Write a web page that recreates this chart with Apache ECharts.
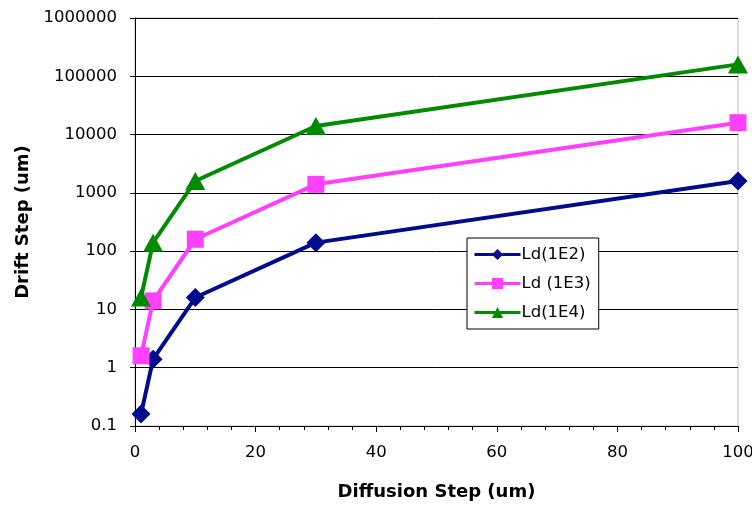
<!DOCTYPE html>
<html><head><meta charset="utf-8">
<script src="https://cdn.jsdelivr.net/npm/echarts@6/dist/echarts.min.js"></script>
<style>html,body{margin:0;padding:0;background:#fff}#c{width:752px;height:507px}</style>
</head><body><div id="c"></div>
<script>
const xValues = [1, 3, 10, 30, 100];
const ld1E2 = [0.16, 1.4, 16, 140, 1600];
const ld1E3 = [1.6, 14, 160, 1400, 16000];
const ld1E4 = [16, 140, 1600, 14000, 160000];
const seriesNames = ['Ld(1E2)', 'Ld (1E3)', 'Ld(1E4)'];
const xTitle = 'Diffusion Step (um)';
const yTitle = 'Drift Step (um)';

const font = '"DejaVu Sans", "Liberation Sans", Arial, sans-serif';
const chart = echarts.init(document.getElementById('c'));
function pairs(ys){ return xValues.map((x,i)=>[x, ys[i]]); }
chart.setOption({
  animation: false,
  textStyle: {fontFamily: font},
  grid: {left: 135, right: 14, top: 18, bottom: 81, containLabel: false, outerBoundsMode: 'none',
         show: true, borderColor: '#bdbdbd', borderWidth: 1, backgroundColor: 'transparent'},
  legend: {
    left: 467, top: 238, orient: 'vertical',
    data: seriesNames,
    backgroundColor: '#fff', borderColor: '#000', borderWidth: 1,
    padding: [8, 8, 8, 6], itemGap: 12, itemWidth: 46, itemHeight: 14,
    lineStyle: {width: 3},
    textStyle: {fontFamily: font, fontSize: 16.5, color: '#000', padding: [0,0,0,-4]}
  },
  xAxis: {
    type: 'value', min: 0, max: 100, interval: 20,
    name: xTitle, nameLocation: 'middle', nameGap: 57,
    nameTextStyle: {fontFamily: font, fontSize: 18, fontWeight: 'bold', color: '#000'},
    axisLine: {show: true, lineStyle: {color: '#000', width: 1}},
    axisTick: {show: true, length: 6, lineStyle: {color: '#000'}},
    minorTick: {show: true, splitNumber: 5, length: 4, lineStyle: {color: '#000'}},
    splitLine: {show: false},
    axisLabel: {fontFamily: font, fontSize: 16.5, color: '#000', margin: 18}
  },
  yAxis: {
    type: 'log', logBase: 10, min: 0.1, max: 1000000,
    name: yTitle, nameLocation: 'middle', nameGap: 96, nameRotate: 90,
    nameTextStyle: {fontFamily: font, fontSize: 18, fontWeight: 'bold', color: '#000'},
    axisLine: {show: true, lineStyle: {color: '#000', width: 1}},
    axisTick: {show: true, length: 5, lineStyle: {color: '#000'}},
    splitLine: {show: true, lineStyle: {color: '#000', width: 1}},
    axisLabel: {fontFamily: font, fontSize: 16.5, color: '#000', margin: 18,
      formatter: v => String(Number(v.toPrecision(6)))}
  },
  series: [
    {name: seriesNames[0], type: 'line', data: pairs(ld1E2), symbol: 'diamond', symbolSize: 19,
     lineStyle: {color: '#000c8c', width: 4}, itemStyle: {color: '#000c8c'}},
    {name: seriesNames[1], type: 'line', data: pairs(ld1E3), symbol: 'rect', symbolSize: 17,
     lineStyle: {color: '#ff40ff', width: 4}, itemStyle: {color: '#ff40ff'}},
    {name: seriesNames[2], type: 'line', data: pairs(ld1E4), symbol: 'triangle', symbolSize: [20, 18],
     lineStyle: {color: '#008a00', width: 4}, itemStyle: {color: '#008a00'}}
  ]
});
</script></body></html>
